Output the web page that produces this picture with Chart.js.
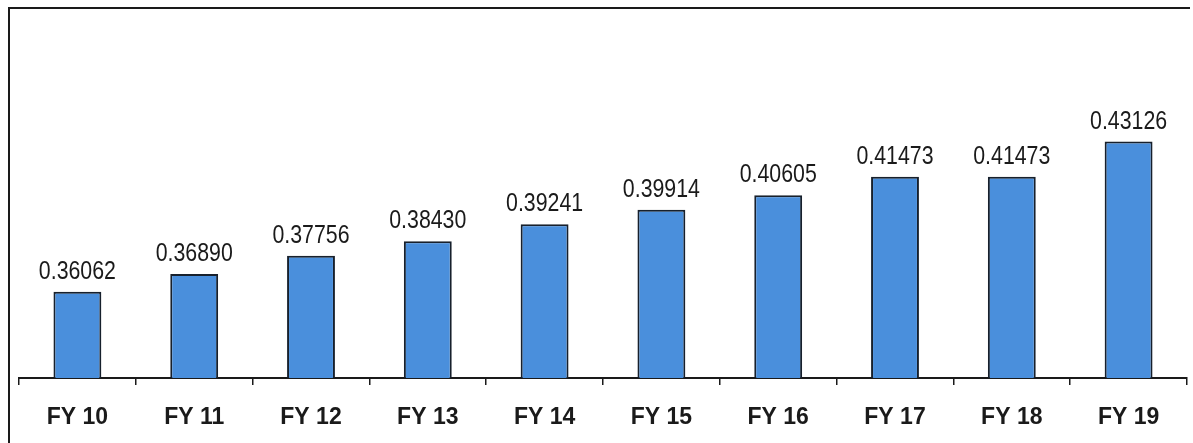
<!DOCTYPE html>
<html>
<head>
<meta charset="utf-8">
<script src="https://cdn.jsdelivr.net/npm/chart.js@4/dist/chart.umd.min.js"></script>
<style>
  html, body { margin: 0; padding: 0; background: #fff; }
  #wrap { position: relative; width: 1193px; height: 443px; }
</style>
</head>
<body>
<div id="wrap"><canvas id="c" width="1193" height="443"></canvas></div>
<script>
const categories = ["FY 10", "FY 11", "FY 12", "FY 13", "FY 14", "FY 15", "FY 16", "FY 17", "FY 18", "FY 19"];
const values = [0.36062, 0.36890, 0.37756, 0.38430, 0.39241, 0.39914, 0.40605, 0.41473, 0.41473, 0.43126];
const valueLabels = ["0.36062", "0.36890", "0.37756", "0.38430", "0.39241", "0.39914", "0.40605", "0.41473", "0.41473", "0.43126"];

const framePlugin = {
  id: 'frame',
  beforeDraw(chart) {
    const ctx = chart.ctx;
    ctx.save();
    ctx.fillStyle = '#fff';
    ctx.fillRect(0, 0, chart.width, chart.height);
    ctx.strokeStyle = '#1a1a1a';
    ctx.lineWidth = 2;
    ctx.beginPath();
    ctx.moveTo(9, 443);
    ctx.lineTo(9, 8);
    ctx.lineTo(1190, 8);
    ctx.stroke();
    ctx.restore();
  }
};

const valueLabelPlugin = {
  id: 'valueLabels',
  afterDatasetsDraw(chart) {
    const ctx = chart.ctx;
    const meta = chart.getDatasetMeta(0);
    meta.data.forEach((bar, i) => {
      ctx.save();
      ctx.translate(bar.x, bar.y - 13);
      ctx.scale(0.82, 1);
      ctx.font = '26px "Liberation Sans", Arial, sans-serif';
      ctx.fillStyle = '#1a1a1a';
      ctx.textAlign = 'center';
      ctx.textBaseline = 'alphabetic';
      ctx.fillText(valueLabels[i], 0, 0);
      ctx.restore();
    });
  }
};

new Chart(document.getElementById('c'), {
  type: 'bar',
  data: {
    labels: categories,
    datasets: [{
      data: values,
      backgroundColor: '#4a8fdc',
      borderColor: '#17202c',
      borderWidth: 2,
      categoryPercentage: 1,
      barPercentage: 0.41
    }]
  },
  options: {
    responsive: false,
    animation: false,
    layout: { padding: { left: 19, right: 6, top: 38, bottom: 0 } },
    plugins: { legend: { display: false }, tooltip: { enabled: false } },
    scales: {
      x: {
        offset: true,
        grid: {
          offset: true,
          drawOnChartArea: false,
          drawTicks: true,
          tickLength: 7,
          color: '#1a1a1a',
          lineWidth: 1.5
        },
        border: { display: true, color: '#1a1a1a', width: 2 },
        ticks: {
          color: '#1a1a1a',
          padding: 19,
          font: { family: '"Liberation Sans", Arial, sans-serif', size: 23, weight: 'bold' }
        },
        afterFit(scale) { scale.height = 65; }
      },
      y: {
        display: false,
        min: 0.32,
        max: 0.48
      }
    }
  },
  plugins: [framePlugin, valueLabelPlugin]
});
</script>
</body>
</html>
